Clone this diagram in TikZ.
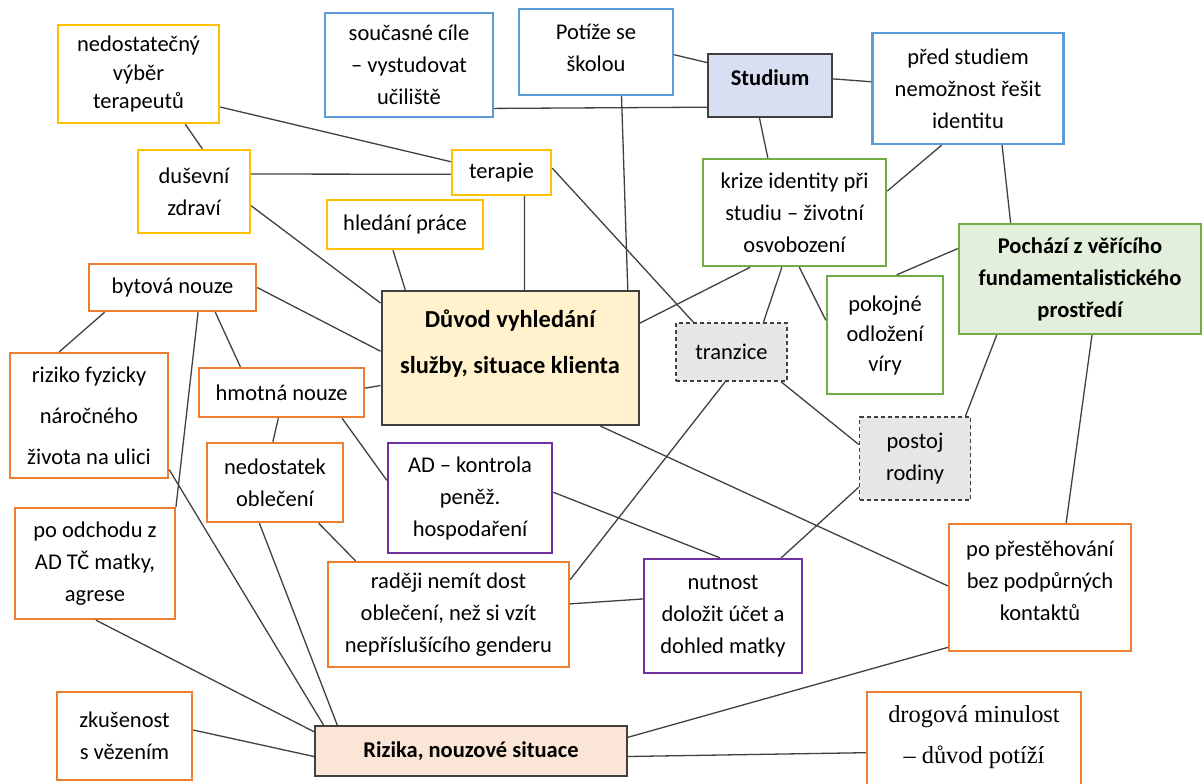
\documentclass[tikz,border=0pt]{standalone}
\usepackage{fontspec}
\setmainfont{Carlito}
\newfontfamily\timesfont{Liberation Serif}

\definecolor{cyellow}{HTML}{FFC000}
\definecolor{cblue}{HTML}{5B9BD5}
\definecolor{cgreen}{HTML}{70AD47}
\definecolor{corange}{HTML}{ED7D31}
\definecolor{cpurple}{HTML}{7030A0}
\definecolor{cdark}{HTML}{404040}
\definecolor{fstudium}{HTML}{D9DFF2}
\definecolor{fduvod}{HTML}{FFF2CC}
\definecolor{fpochazi}{HTML}{E2EFDA}
\definecolor{frizika}{HTML}{FBE5D6}
\definecolor{fgray}{HTML}{E7E6E6}

\begin{document}
\begin{tikzpicture}[x=0.5pt, y=-0.5pt]
\tikzset{every node/.style={align=center, inner sep=0pt, text=black, font=\fontsize{11.25}{16}\selectfont},
  sz/.style 2 args={minimum width=#1*0.5pt, minimum height=#2*0.5pt},
  ybox/.style={draw=cyellow, line width=1.2pt},
  bbox/.style={draw=cblue, line width=1.2pt},
  gbox/.style={draw=cgreen, line width=1.2pt},
  obox/.style={draw=corange, line width=1.2pt},
  pbox/.style={draw=cpurple, line width=1.2pt},
  dbox/.style={draw=cdark, fill=fgray, line width=0.8pt, dash pattern=on 2pt off 1.5pt},
  keybox/.style={draw=cdark, line width=1pt, font=\bfseries\fontsize{11.25}{16}\selectfont},
  link/.style={draw=cdark, line width=0.65pt}}

\useasboundingbox (0,0) rectangle (1202,783);
\clip (0,0) rectangle (1202,783);

% top row
\node[ybox, sz={161}{98}, font=\fontsize{11.25}{14.25}\selectfont] (ned) at (138.5,74) {nedostatečný\\výběr\\terapeutů};
\node[bbox, sz={168}{104}] (soucasne) at (409,65) {současné cíle\\– vystudovat\\učiliště};
\node[bbox, sz={154}{86}, label={[yshift=2pt]center:Potíže se\\školou}] (potize) at (596,52) {};
\node[keybox, fill=fstudium, sz={124}{63}, label={[font=\bfseries\fontsize{11.25}{16}\selectfont, yshift=4pt]center:Studium}] (studium) at (770,85.5) {};
\node[bbox, sz={191}{111}] (pred) at (968,88.5) {před studiem\\nemožnost řešit\\identitu};

% mental health, identity
\node[ybox, sz={112}{83}] (dusevni) at (194,191.5) {duševní\\zdraví};
\node[ybox, sz={99}{45}] (terapie) at (501.5,172.5) {terapie};
\node[ybox, sz={156}{49}] (hledani) at (405,224.5) {hledání práce};
\node[gbox, sz={183}{107}] (krize) at (794.5,212.5) {krize identity při\\studiu – životní\\osvobození};
\node[keybox, draw=cgreen, line width=1.2pt, fill=fpochazi, sz={242}{110}] (pochazi) at (1080,279) {Pochází z věřícího\\fundamentalistického\\prostředí};

% middle
\node[obox, sz={167}{47}] (bytova) at (172.5,287.5) {bytová nouze};
\node[keybox, fill=fduvod, sz={257}{134},
  label={[font=\bfseries\fontsize{12.2}{23}\selectfont, yshift=7pt]center:Důvod vyhledání\\služby, situace klienta}] (duvod) at (510,358) {};
\node[dbox, sz={111}{58}] (tranzice) at (731.5,352) {tranzice};
\node[gbox, sz={116}{118}, font=\fontsize{11.25}{15}\selectfont] (pokojne) at (885,335) {pokojné\\odložení\\víry};
\node[obox, sz={158}{125}, font=\fontsize{11.25}{20.5}\selectfont] (riziko) at (89,415.5) {riziko fyzicky\\náročného\\života na ulici};
\node[obox, sz={165}{49}] (hmotna) at (281.5,392.5) {hmotná nouze};
\node[dbox, sz={111}{83}] (postoj) at (915,458.5) {postoj\\rodiny};
\node[obox, sz={136}{79}] (nedostatek) at (275,482.5) {nedostatek\\oblečení};
\node[pbox, sz={164}{110}] (adk) at (470,498) {AD – kontrola\\peněž.\\hospodaření};

% lower part
\node[obox, sz={160}{111}] (poodchodu) at (95,563.5) {po odchodu z\\AD TČ matky,\\agrese};
\node[obox, sz={241}{105}] (radeji) at (448.5,614.5) {raději nemít dost\\oblečení, než si vzít\\nepříslušícího genderu};
\node[pbox, sz={158}{114}] (nutnost) at (723,616) {nutnost\\doložit účet a\\dohled matky};
\node[obox, sz={182}{127}, label={[yshift=3.5pt]center:po přestěhování\\bez podpůrných\\kontaktů}] (prest) at (1040,587.5) {};
\node[obox, sz={135}{88}] (zkusenost) at (124.5,736) {zkušenost\\s vězením};
\node[keybox, fill=frizika, sz={312}{50}] (rizika) at (471,751) {Rizika, nouzové situace};
\node[obox, sz={214}{110},
  label={[font=\timesfont\fontsize{12.2}{20.5}\selectfont, yshift=5pt]center:drogová minulost\\– důvod potíží}] (drogova) at (974,747) {};

% connectors
\draw[link] (ned.-22) -- (terapie.168);
\draw[link] (ned.-47) -- (dusevni.79);
\draw[link] (dusevni.17) -- (terapie.182);
\draw[link] (dusevni.-14) -- (duvod.157);
\draw[link] (hledani.245) -- (duvod.147);
\draw[link] (terapie.-46) -- (duvod.78);
\draw[link] (terapie.5) -- (tranzice.142);
\draw[link] (soucasne.-27) -- (studium.199);
\draw[link] (potize.-2) -- (studium.160);
\draw[link] (potize.-60) -- (duvod.30);
\draw[link] (studium.6) -- (pred.176);
\draw[link] (studium.252) -- (krize.116);
\draw[link] (pred.245) -- (krize.13);
\draw[link] (pred.-59) -- (pochazi.141);
\draw[link] (krize.231) -- (duvod.15);
\draw[link] (krize.257) -- (tranzice.43);
\draw[link] (krize.-85) -- (pokojne.166);
\draw[link] (pochazi.166) -- (pokojne.79);
\draw[link] (pochazi.214) -- (postoj.40);
\draw[link] (pochazi.-78) -- (prest.68);
\draw[link] (tranzice.-31) -- (postoj.166);
\draw[link] (tranzice.258) -- (radeji.16);
\draw[link] (postoj.207) -- (nutnost.45);
\draw[link] (duvod.-37) -- (prest.179);
\draw[link] (adk.4) -- (nutnost.93);
\draw[link] (radeji.5) -- (nutnost.168);
\draw[link] (bytova.0) -- (duvod.177);
\draw[link] (hmotna.3) -- (duvod.192);
\draw[link] (bytova.200) -- (riziko.115);
\draw[link] (bytova.-44) -- (poodchodu.35);
\draw[link] (bytova.-30) -- (hmotna.148);
\draw[link] (hmotna.-97) -- (nedostatek.93);
\draw[link] (hmotna.-23) -- (adk.168);
\draw[link] (riziko.-34) -- (rizika.170);
\draw[link] (nedostatek.-43) -- (radeji.150);
\draw[link] (nedostatek.249) -- (rizika.169);
\draw[link] (poodchodu.-89) -- (rizika.173);
\draw[link] (zkusenost.5) -- (rizika.182);
\draw[link] (rizika.5) -- (prest.213);
\draw[link] (rizika.-2) -- (drogova.183);
\end{tikzpicture}
\end{document}
